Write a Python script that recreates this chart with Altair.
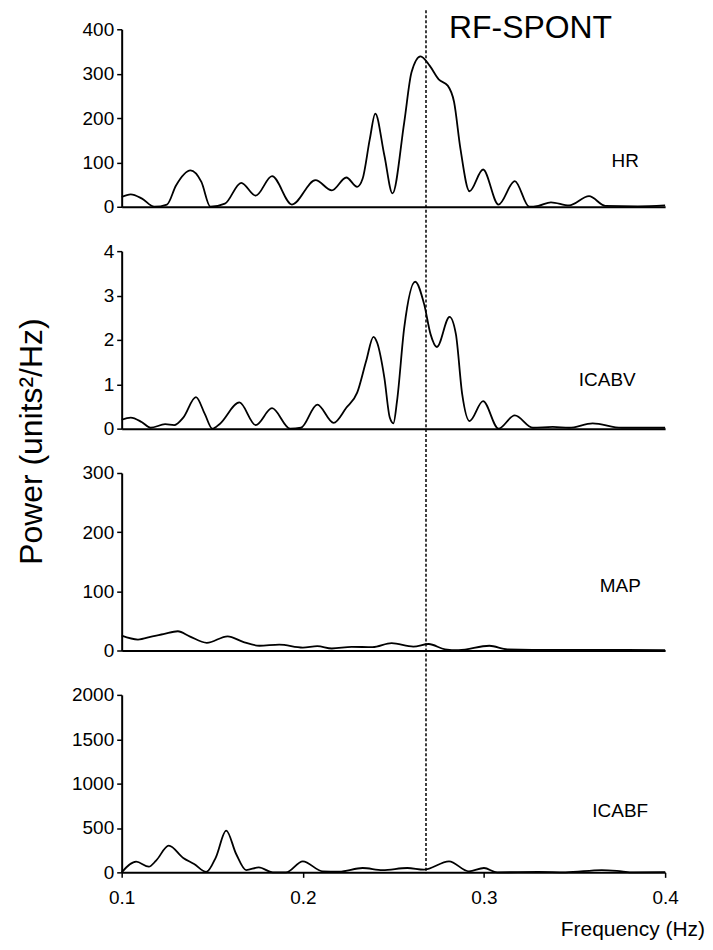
import altair as alt
import pandas as pd

FONT = "Liberation Sans"

# ---- data ----
hr_f = [0.100, 0.105, 0.111, 0.118, 0.125, 0.130, 0.138, 0.144, 0.149, 0.157, 0.166,
        0.174, 0.183, 0.194, 0.207, 0.216, 0.224, 0.230, 0.233, 0.237, 0.240, 0.245,
        0.2495, 0.256, 0.260, 0.265, 0.270, 0.275, 0.280, 0.2835, 0.287, 0.292, 0.2995,
        0.308, 0.317, 0.325, 0.330, 0.337, 0.347, 0.358, 0.367, 0.385, 0.400]
hr_v = [22, 28, 19, 0, 5, 48, 82, 56, 0, 7, 54,
        25, 69, 5, 60, 37, 66, 45, 63, 153, 210, 116,
        30, 191, 303, 339, 318, 287, 273, 236, 131, 35, 84,
        5, 58, 0, 2, 10, 3, 24, 2, 1, 3]

icabv_f = [0.100, 0.105, 0.111, 0.116, 0.124, 0.129, 0.134, 0.141, 0.146, 0.150, 0.154,
           0.165, 0.174, 0.183, 0.193, 0.199, 0.208, 0.217, 0.224, 0.230, 0.235, 0.239,
           0.241, 0.245, 0.248, 0.250, 0.252, 0.256, 0.262, 0.267, 0.2705, 0.274, 0.281,
           0.2845, 0.288, 0.292, 0.2995, 0.308, 0.317, 0.327, 0.338, 0.347, 0.360, 0.376, 0.400]
icabv_v = [0.20, 0.25, 0.15, 0.02, 0.10, 0.08, 0.25, 0.71, 0.32, 0.0, 0.10,
           0.59, 0.08, 0.46, 0.0, 0.02, 0.54, 0.13, 0.47, 0.81, 1.53, 2.07,
           1.94, 1.15, 0.25, 0.12, 0.62, 2.28, 3.31, 2.80, 2.13, 1.84, 2.52,
           2.13, 0.77, 0.17, 0.62, 0.0, 0.30, 0.02, 0.04, 0.02, 0.12, 0.02, 0.02]

map_f = [0.100, 0.109, 0.117, 0.123, 0.131, 0.1375, 0.147, 0.1585, 0.167, 0.176, 0.187,
         0.200, 0.208, 0.216, 0.227, 0.2385, 0.249, 0.261, 0.2695, 0.2785, 0.286, 0.303,
         0.313, 0.340, 0.370, 0.400]
map_v = [25, 18.5, 24, 27.5, 32.5, 24, 13, 24, 14.5, 8, 10,
         5, 7.3, 3.4, 6.2, 5.6, 12.4, 6.7, 11, 2, 0.5, 8,
         2, 1, 1, 0.5]

icabf_f = [0.100, 0.108, 0.115, 0.119, 0.126, 0.134, 0.140, 0.1467, 0.152, 0.1577, 0.1632,
           0.1687, 0.1757, 0.1834, 0.1907, 0.200, 0.211, 0.220, 0.233, 0.244, 0.2577, 0.2669,
           0.2807, 0.2917, 0.300, 0.3073, 0.330, 0.345, 0.365, 0.376, 0.382, 0.400]
icabf_v = [0, 120, 64, 132, 301, 162, 94, 4, 170, 470, 207,
           26, 56, 0, 0, 124, 11, 8, 49, 26, 49, 30,
           124, 11, 49, 0, 4, 0, 26, 11, 0, 2]

x_ticks = [0.1, 0.2, 0.3, 0.4]
marker_f = 0.268

W, H = 545, 178
GAP = 44.5

XSCALE = alt.Scale(domain=[0.1, 0.4], nice=False, zero=False)
one = pd.DataFrame({"a": [0]})

X_AXIS_BOTTOM = alt.Axis(values=x_ticks, format=".1f", title=None, grid=False,
                         domainColor="black", domainWidth=2, tickColor="black",
                         tickWidth=1.5, tickSize=5, labelPadding=11, labelFontSize=19,
                         labelFont=FONT, labelColor="black", labelFlush=False)
X_AXIS_PLAIN = alt.Axis(values=x_ticks, title=None, grid=False, labels=False, ticks=False,
                        domainColor="black", domainWidth=2)


def label_text(text, x, y, size, **kw):
    return alt.Chart(one).mark_text(text=text, font=FONT, fontSize=size, color="black",
                                    baseline="middle", **kw).encode(
        x=alt.value(x), y=alt.value(y))


def panel(f, v, dom, ticks, label, lx, ly, bottom=False, extra=None):
    df = pd.DataFrame({"f": f, "v": v})
    xaxis = X_AXIS_BOTTOM if bottom else X_AXIS_PLAIN
    x = alt.X("f:Q", scale=XSCALE, axis=xaxis)
    y = alt.Y("v:Q", scale=alt.Scale(domain=dom, nice=False, zero=True),
              axis=alt.Axis(values=ticks, format="d", title=None, grid=False,
                            domainColor="black", domainWidth=2, tickColor="black",
                            tickWidth=1.5, tickSize=5, labelPadding=3, labelFontSize=19,
                            labelFont=FONT, labelColor="black"))
    line = alt.Chart(df).mark_line(color="black", strokeWidth=1.8,
                                   interpolate="monotone").encode(x=x, y=y)
    layers = [line, label_text(label, lx, ly, 19, align="center")]
    if extra:
        layers += extra
    return alt.layer(*layers).properties(width=W, height=H)


rf = label_text("RF-SPONT", 410, -1, 32, align="center")
power = label_text("Power (units²/Hz)", -90, 191, 32, align="center", angle=270)
freq = label_text("Frequency (Hz)", 585, 236, 21, align="right")

marker_df = pd.DataFrame({"f": [marker_f]})
rule = alt.Chart(marker_df).mark_rule(color="black", strokeWidth=1.5,
                                      strokeDash=[3, 2]).encode(
    x=alt.X("f:Q", scale=XSCALE, axis=X_AXIS_BOTTOM),
    y=alt.value(-(3 * (H + GAP) + 19)), y2=alt.value(H + 1))

p1 = panel(hr_f, hr_v, [0, 400], [0, 100, 200, 300, 400], "HR", 505, 132, extra=[rf])
p2 = panel(icabv_f, icabv_v, [0, 4], [0, 1, 2, 3, 4], "ICABV", 487, 129, extra=[power])
p3 = panel(map_f, map_v, [0, 300], [0, 100, 200, 300], "MAP", 500, 113)
p4 = panel(icabf_f, icabf_v, [0, 2000], [0, 500, 1000, 1500, 2000], "ICABF", 500, 116,
           bottom=True, extra=[rule, freq])

chart = alt.vconcat(p1, p2, p3, p4, spacing=GAP, bounds="flush").properties(
    padding={"left": 8, "top": 0, "right": 0, "bottom": 0}
).configure_view(strokeWidth=0).configure_axis(grid=False)

chart.save("out.html", embed_options={"renderer": "svg", "actions": False})
